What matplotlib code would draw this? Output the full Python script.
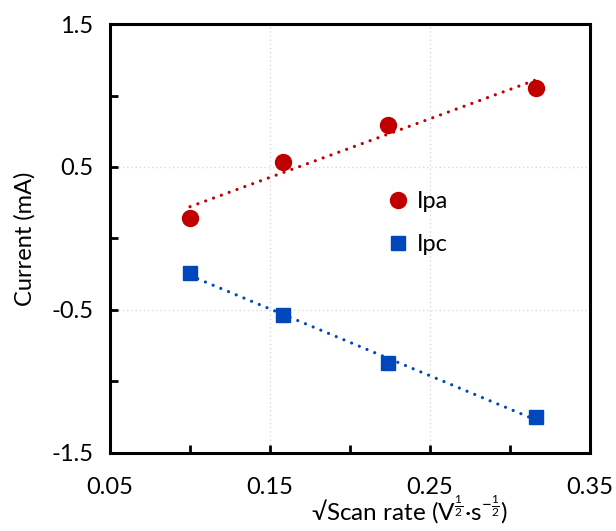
import numpy as np
import matplotlib.pyplot as plt
import matplotlib
from matplotlib.ticker import MultipleLocator, FixedLocator

matplotlib.rcParams['font.family'] = ['Lato', 'DejaVu Sans']
matplotlib.rcParams['mathtext.fontset'] = 'custom'
matplotlib.rcParams['mathtext.rm'] = 'Lato'
matplotlib.rcParams['axes.unicode_minus'] = False

# raiz de la velocidad de barrido
raiz_v = [0.1, 0.158, 0.2236, 0.3162]
ipa = [0.14, 0.535, 0.794, 1.052]
ipc = [-0.241, -0.535, -0.871, -1.248]

xticks = [0.05, 0.15, 0.25, 0.35]
yticks = [1.5, 0.5, -0.5, -1.5]

rojo = '#C00000'
azul = '#0047BB'

fig = plt.figure(figsize=(6.16, 5.31), dpi=100)
ax = fig.add_axes([0.1786, 0.1469, 0.7792, 0.8079])

# lineas de tendencia (ajuste lineal)
xs = np.array([raiz_v[0], raiz_v[-1]])
for y, c in [(ipa, rojo), (ipc, azul)]:
    m, b = np.polyfit(raiz_v, y, 1)
    ax.plot(xs, m * xs + b, color=c, lw=2.3, ls=(0, (0.01, 2.6)),
            dash_capstyle='round', zorder=2)

ax.plot(raiz_v, ipa, 'o', color=rojo, ms=11.5, ls='none', label='Ipa', zorder=3)
ax.plot(raiz_v, ipc, 's', color=azul, ms=10.5, ls='none', label='Ipc', zorder=3)

ax.set_xlim(0.05, 0.35)
ax.set_ylim(-1.5, 1.5)
ax.xaxis.set_major_locator(FixedLocator(xticks))
ax.xaxis.set_minor_locator(MultipleLocator(0.05))
ax.yaxis.set_major_locator(FixedLocator(yticks))
ax.yaxis.set_minor_locator(MultipleLocator(0.5))

ax.grid(True, which='major', color='#D9D9D9', ls=(0, (1, 2)), lw=1)
for s in ax.spines.values():
    s.set_linewidth(2.2)
ax.tick_params(which='both', direction='in', length=6, width=2, labelsize=17)
ax.tick_params(axis='x', pad=17)
ax.tick_params(axis='y', pad=12)

ax.set_xlabel(r'√Scan rate (V$^{\frac{1}{2}}$·s$^{-\frac{1}{2}}$)', fontsize=17.5)
ax.xaxis.set_label_coords(0.625, -0.095)
ax.set_ylabel('Current (mA)', fontsize=17)
ax.yaxis.set_label_coords(-0.155, 0.5)

ax.legend(loc='upper left', bbox_to_anchor=(0.56, 0.633), frameon=False,
          fontsize=17, handlelength=0.8, handletextpad=0.4, labelspacing=0.95,
          borderaxespad=0)

fig.savefig('out.png', dpi=100)
